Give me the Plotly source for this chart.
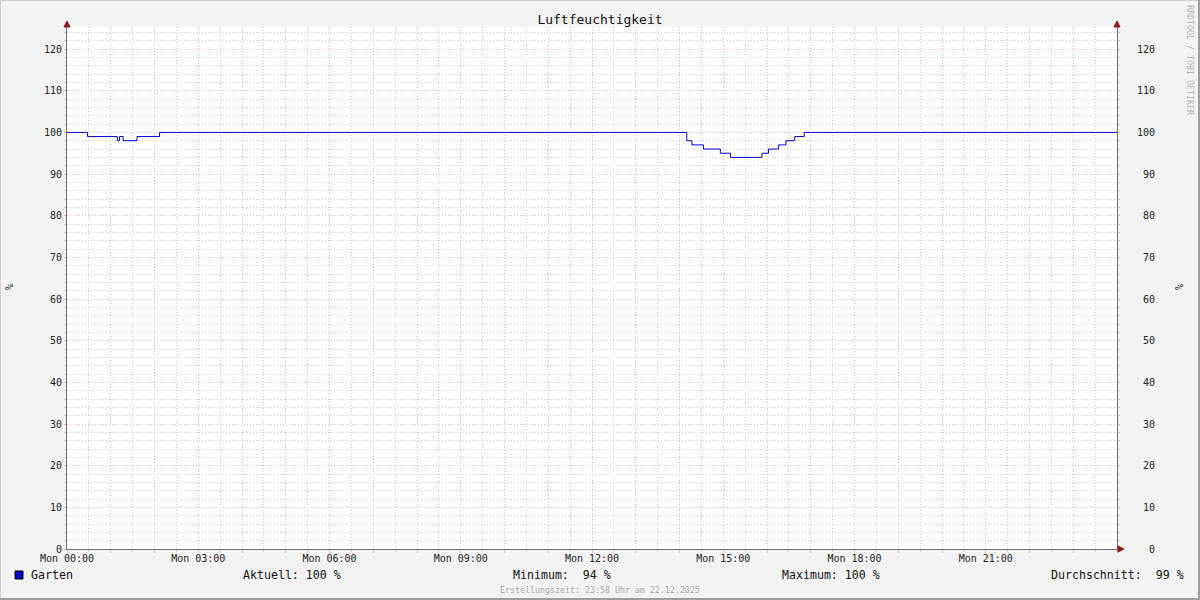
import plotly.graph_objects as go

# ---- data ----
series_name = "Garten"
times = ["2025-12-22 00:00", "2025-12-22 00:28", "2025-12-22 01:09", "2025-12-22 01:12",
         "2025-12-22 01:17", "2025-12-22 01:36", "2025-12-22 02:07", "2025-12-22 14:10",
         "2025-12-22 14:17", "2025-12-22 14:33", "2025-12-22 14:56", "2025-12-22 15:10",
         "2025-12-22 15:53", "2025-12-22 16:02", "2025-12-22 16:16", "2025-12-22 16:26",
         "2025-12-22 16:38", "2025-12-22 16:51", "2025-12-23 00:00"]
humidity = [100, 99, 98, 99, 98, 99, 100, 98, 97, 96, 95, 94, 95, 96, 97, 98, 99, 100, 100]

hour_ticks = ["2025-12-22 %02d:00" % h for h in range(24)] + ["2025-12-23 00:00"]
half_hour_ticks = ["2025-12-22 %02d:30" % h for h in range(24)]
hour_labels = ["Mon 00:00", "", "", "Mon 03:00", "", "", "Mon 06:00", "", "", "Mon 09:00", "", "",
               "Mon 12:00", "", "", "Mon 15:00", "", "", "Mon 18:00", "", "", "Mon 21:00", "", "", ""]
y_ticks = [0, 10, 20, 30, 40, 50, 60, 70, 80, 90, 100, 110, 120]
y_minor_ticks = [v for v in range(2, 126, 2) if v % 10 != 0]
stat_labels = ["Aktuell: 100 %", "Minimum:\u00a0\u00a094 %", "Maximum: 100 %", "Durchschnitt:\u00a0\u00a099 %"]
title_text = "Luftfeuchtigkeit"
unit_label = "%"
footer_text = "Erstellungszeit: 23:58 Uhr am 22.12.2025"
credit_text = "RRDTOOL / TOBI OETIKER"

# ---- layout geometry ----
W, H = 1200, 600
L, R, T, B = 67, 1117, 27, 549
PW, PH = R - L, B - T
FONT = "DejaVu Sans Mono"
RED_GRID = "#EDB4B4"
GRAY_GRID = "#CDCDCD"
AXIS_COL = "#6E6E6E"
DOT = "1px,2px"


def px(x):
    return (x - L) / PW


def py(y):
    return (B - y) / PH


fig = go.Figure()
fig.add_trace(go.Scatter(x=times, y=humidity, mode="lines", line=dict(color="#0000CC", width=1, shape="hv"),
                         name=series_name, showlegend=False, hoverinfo="x+y"))
fig.add_trace(go.Scatter(x=[times[0]], y=[None], yaxis="y2", showlegend=False, hoverinfo="skip"))

yr = [0, 125.3]
common_y = dict(range=yr, tickmode="array", tickvals=y_ticks, showline=True, linecolor=AXIS_COL, linewidth=1,
                ticks="outside", ticklen=2, tickcolor=RED_GRID, zeroline=False,
                tickfont=dict(family=FONT, size=10, color="#222222"), fixedrange=True)

fig.update_layout(
    width=W, height=H,
    margin=dict(l=L, r=W - R, t=T, b=H - B, pad=0),
    paper_bgcolor="#F3F3F3", plot_bgcolor="#FFFFFF",
    font=dict(family=FONT, size=10, color="#222222"),
    title=dict(text=title_text, x=0.5, xref="container", xanchor="center",
               y=1 - 19 / H, yref="container", yanchor="middle",
               font=dict(family=FONT, size=13, color="#111111")),
    xaxis=dict(type="date", range=[hour_ticks[0], hour_ticks[-1]], tickmode="array",
               tickvals=hour_ticks, ticktext=hour_labels, showgrid=True, gridcolor=RED_GRID,
               griddash=DOT, gridwidth=1, showline=True, linecolor=AXIS_COL, linewidth=1,
               ticks="outside", ticklen=3, tickcolor=RED_GRID, zeroline=False, ticklabelstandoff=-3,
               tickfont=dict(family=FONT, size=10, color="#222222"),
               minor=dict(tickmode="array", tickvals=half_hour_ticks, showgrid=True, gridcolor=GRAY_GRID,
                          griddash=DOT, gridwidth=1, ticks="outside", ticklen=2, tickcolor=GRAY_GRID),
               fixedrange=True),
    yaxis=dict(**common_y, showgrid=True, gridcolor=RED_GRID, griddash=DOT, gridwidth=1,
               minor=dict(tickmode="array", tickvals=y_minor_ticks, showgrid=True, gridcolor=GRAY_GRID,
                          griddash=DOT, gridwidth=1, ticks="outside", ticklen=2, tickcolor=GRAY_GRID)),
    yaxis2=dict(**common_y, overlaying="y", side="right", showgrid=False,
                minor=dict(tickmode="array", tickvals=y_minor_ticks, showgrid=False, ticks="outside",
                           ticklen=2, tickcolor=GRAY_GRID),
                ticktext=[("\u00a0" * (3 - len(str(v)))) + str(v) for v in y_ticks],
                ticklabelstandoff=15),
    showlegend=False,
)

shapes = []
# frame border
shapes.append(dict(type="rect", xref="paper", yref="paper", x0=px(0), x1=px(W), y0=py(H), y1=py(0),
                   line=dict(color="#CFCFCF", width=2), fillcolor="rgba(0,0,0,0)", layer="above"))
shapes.append(dict(type="line", xref="paper", yref="paper", x0=px(0), x1=px(W), y0=py(H - 1), y1=py(H - 1),
                   line=dict(color="#9E9E9E", width=2)))
shapes.append(dict(type="line", xref="paper", yref="paper", x0=px(W - 1), x1=px(W - 1), y0=py(0), y1=py(H),
                   line=dict(color="#9E9E9E", width=2)))
# arrows
ARROW = "#8B1A1A"
for xa in (0, 1):
    shapes.append(dict(type="path", xref="paper", yref="paper", xsizemode="pixel", ysizemode="pixel",
                       xanchor=xa, yanchor=1, path="M -3,0 L 3,0 L 0,6 Z",
                       fillcolor=ARROW, line=dict(color=ARROW, width=1)))
shapes.append(dict(type="path", xref="paper", yref="paper", xsizemode="pixel", ysizemode="pixel",
                   xanchor=1, yanchor=0, path="M 1,-3 L 1,3 L 7,0 Z",
                   fillcolor=ARROW, line=dict(color=ARROW, width=1)))
# legend square
shapes.append(dict(type="rect", xref="paper", yref="paper", x0=px(15), x1=px(23), y0=py(579), y1=py(571),
                   fillcolor="#0000CC", line=dict(color="#000000", width=1)))
fig.update_layout(shapes=shapes)

ann = []
ann.append(dict(text=series_name, x=px(29), y=py(575), xanchor="left", yanchor="middle",
                font=dict(family=FONT, size=11.6, color="#111111")))
for label, cx in zip(stat_labels, [291.5, 562, 831, 1117.5]):
    ann.append(dict(text=label, x=px(cx), y=py(575), xanchor="center", yanchor="middle",
                    font=dict(family=FONT, size=11.6, color="#111111")))
ann.append(dict(text=footer_text, x=px(600), y=py(590), xanchor="center", yanchor="middle",
                font=dict(family=FONT, size=8.3, color="#A8A8A8")))
ann.append(dict(text=credit_text, x=px(1190), y=py(60), xanchor="center", yanchor="middle", textangle=90,
                font=dict(family=FONT, size=8.3, color="#B4B4B4")))
for cx in (9, 1179):
    ann.append(dict(text=unit_label, x=px(cx), y=py(287), xanchor="center", yanchor="middle", textangle=-90,
                    font=dict(family=FONT, size=10, color="#222222")))
for a in ann:
    a.update(xref="paper", yref="paper", showarrow=False)
fig.update_layout(annotations=ann)

fig.write_html("out.html", config={"displayModeBar": False},
               post_script="document.body.style.margin='0';document.body.style.overflow='hidden';")
